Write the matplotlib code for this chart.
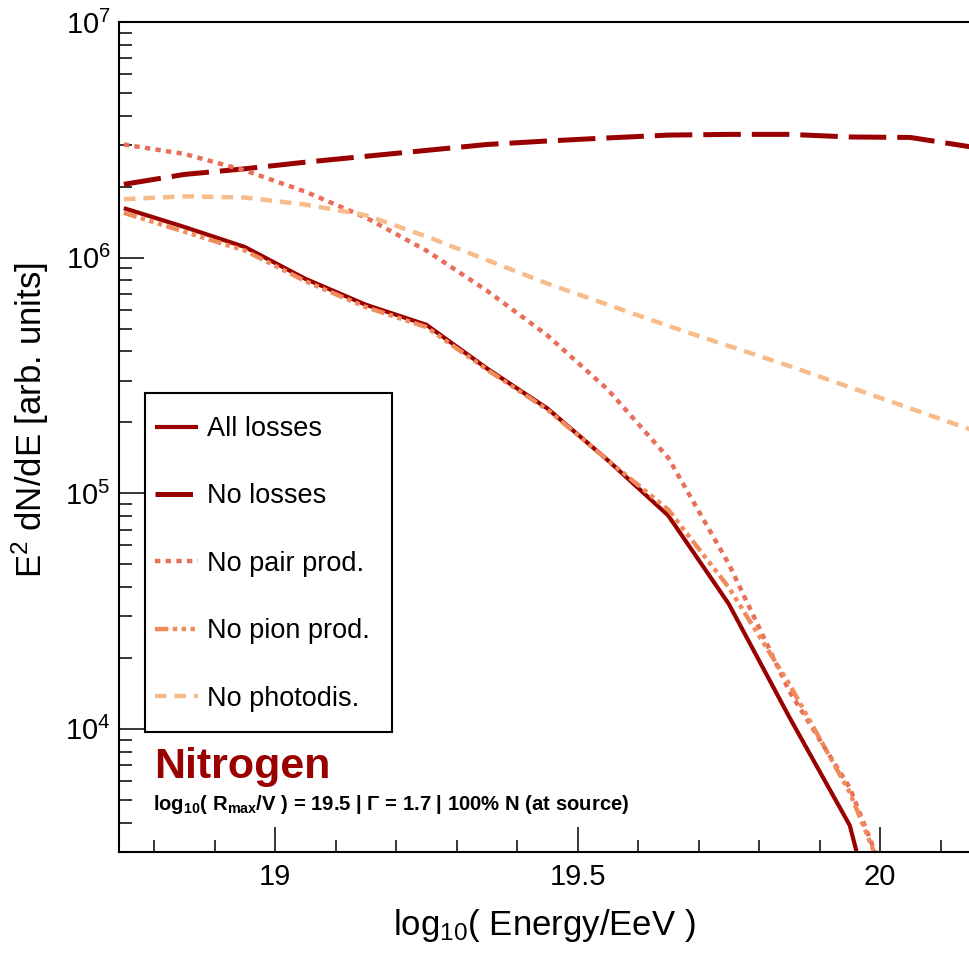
import matplotlib
matplotlib.use("Agg")
import matplotlib.pyplot as plt
import numpy as np
from matplotlib.patches import Rectangle
from matplotlib.ticker import LogLocator, MultipleLocator, LogFormatterMathtext, FixedLocator

plt.rcParams['font.family'] = ['Liberation Sans', 'DejaVu Sans']
plt.rcParams['mathtext.fontset'] = 'custom'
plt.rcParams['mathtext.rm'] = 'Liberation Sans'
plt.rcParams['mathtext.it'] = 'Liberation Sans:italic'
plt.rcParams['mathtext.bf'] = 'Liberation Sans:bold'

# ---- data (log10 of E^2 dN/dE) ----
log_energy = [18.75, 18.85, 18.95, 19.05, 19.15, 19.25, 19.35, 19.45, 19.55,
              19.65, 19.75, 19.85, 19.95, 20.05, 20.15]
all_losses = [6.21, 6.13, 6.045, 5.91, 5.80, 5.715, 5.53, 5.36, 5.14,
              4.905, 4.53, 4.05, 3.59, 2.6, 1.5]
no_losses = [6.311, 6.353, 6.377, 6.405, 6.43, 6.455, 6.48, 6.495, 6.508,
             6.52, 6.523, 6.523, 6.512, 6.51, 6.47]
no_pair = [6.48, 6.44, 6.37, 6.28, 6.17, 6.03, 5.86, 5.67, 5.44,
           5.15, 4.70, 4.16, 3.75, 3.1, 2.3]
no_pion = [6.19, 6.11, 6.03, 5.90, 5.79, 5.705, 5.525, 5.355, 5.14,
           4.93, 4.60, 4.19, 3.73, 3.1, 2.3]
no_photodis = [6.248, 6.26, 6.255, 6.225, 6.18, 6.09, 5.99, 5.89, 5.80,
               5.71, 5.625, 5.54, 5.45, 5.36, 5.27]

labels = ["All losses", "No losses", "No pair prod.", "No pion prod.", "No photodis."]
colors = ["#990000", "#990000", "#E8705A", "#F08C5C", "#F7BC8A"]

W, H = 970, 959
fig = plt.figure(figsize=(W / 100, H / 100), dpi=100)

x0_px, x1_px, y0_px, y1_px = 119, 1031.25, 22, 852
ax = fig.add_axes([x0_px / W, 1 - y1_px / H, (x1_px - x0_px) / W, (y1_px - y0_px) / H])

E = np.array(log_energy)
series = [all_losses, no_losses, no_pair, no_pion, no_photodis]
styles = [
    dict(ls='-', lw=3.0),
    dict(ls=(0, (7.5, 2.2)), lw=3.6),
    dict(ls=(0, (1.2, 1.2)), lw=3.2),
    dict(ls=(0, (3, 1, 1, 1, 1, 1, 1, 1)), lw=3.2),
    dict(ls=(0, (2.6, 1.8)), lw=3.2),
]
handles = []
for s, lab, c, st in zip(series, labels, colors, styles):
    h, = ax.plot(E, 10 ** np.array(s), color=c, label=lab, solid_capstyle='butt',
                 dash_capstyle='butt', **st)
    handles.append(h)

ax.set_yscale('log')
ax.set_xlim(18.742, 20.25)
ax.set_ylim(3e3, 1e7)

ax.xaxis.set_major_locator(FixedLocator([19.0, 19.5, 20.0]))
ax.xaxis.set_major_formatter(matplotlib.ticker.FixedFormatter(["19", "19.5", "20"]))
ax.xaxis.set_minor_locator(MultipleLocator(0.1))
ax.yaxis.set_major_locator(LogLocator(base=10))
ax.yaxis.set_minor_locator(LogLocator(base=10, subs=np.arange(2, 10)))
ax.yaxis.set_major_formatter(LogFormatterMathtext())
ax.yaxis.set_minor_formatter(matplotlib.ticker.NullFormatter())

ax.tick_params(which='both', direction='in', top=False, right=False, width=1.1, color='black')
ax.tick_params(which='major', length=18, labelsize=21)
ax.tick_params(axis='y', which='major', pad=6)
ax.tick_params(axis='x', which='major', pad=8)
ax.tick_params(which='minor', length=9)
for sp in ax.spines.values():
    sp.set_linewidth(1.5)

fig.text(544 / W, 1 - 925 / H, r"log$_{10}$( Energy/EeV )", fontsize=25,
         ha='center', va='center')
fig.text(30 / W, 1 - 420 / H, r"E$^{2}$ dN/dE [arb. units]", fontsize=25,
         ha='center', va='center', rotation=90)

# legend frame and entries
fig.patches.append(Rectangle((145 / W, 1 - 732 / H), (392 - 145) / W, (732 - 393) / H,
                             transform=fig.transFigure, fill=True, facecolor='white',
                             edgecolor='black', linewidth=1.5, zorder=5))
leg = fig.legend(handles=handles, labels=labels, loc='upper left',
                 bbox_to_anchor=(155 / W, 1 - 416 / H), frameon=False,
                 fontsize=19.5, handlelength=1.6, handletextpad=0.33,
                 labelspacing=1.53, borderpad=0, borderaxespad=0)
leg.set_zorder(6)

fig.text(154 / W, 1 - 778 / H, "Nitrogen", fontsize=31, fontweight='bold',
         color='#990000', ha='left', va='baseline')
fig.text(153 / W, 1 - 810 / H,
         r"log$_{\mathbf{10}}$( R$_{\mathbf{max}}$/V ) = 19.5 | Γ = 1.7 | 100% N (at source)",
         fontsize=14.6, fontweight='bold', ha='left', va='baseline')

fig.savefig("out.png", dpi=100)
